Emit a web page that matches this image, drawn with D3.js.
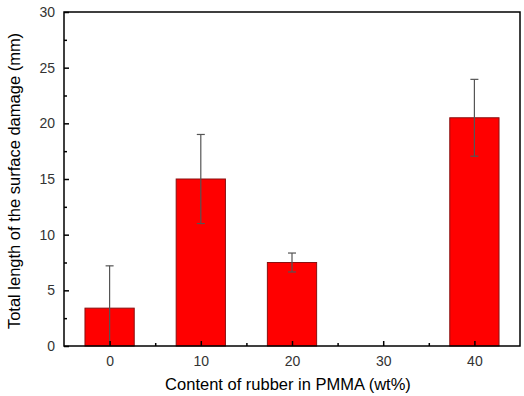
<!DOCTYPE html>
<html>
<head>
<meta charset="utf-8">
<script src="https://cdn.jsdelivr.net/npm/d3@7"></script>
<style>
  body { margin: 0; background: #fff; }
  text { font-family: "Liberation Sans", Arial, sans-serif; }
</style>
</head>
<body>
<div id="chart"></div>
<script>
// rubber content categories and measured damage length
let contents = [0, 10, 20, 30, 40];
let damage = [3.4, 15.0, 7.5, 0, 20.5];
let errors = [3.8, 4.0, 0.85, 0, 3.45];
let yTicks = [0, 5, 10, 15, 20, 25, 30];
let yMinorTicks = [2.5, 7.5, 12.5, 17.5, 22.5, 27.5];
let xMinorTicks = [5, 15, 25, 35];

let width = 524, height = 396;
let margin = {top: 12, right: 4, bottom: 50, left: 64};
let innerWidth = width - margin.left - margin.right;
let innerHeight = height - margin.top - margin.bottom;

let svg = d3.select("#chart")
  .append("svg")
  .attr("width", width)
  .attr("height", height)
  .append("g")
  .attr("transform", "translate(" + margin.left + "," + margin.top + ")");

let x = d3.scaleLinear().domain([-5, 45]).range([0, innerWidth]);
let y = d3.scaleLinear().domain([0, 30]).range([innerHeight, 0]);
let barW = x(2.7) - x(-2.7);

// bars
svg.selectAll("rect.bar")
  .data(contents.map((c, i) => ({c: c, v: damage[i], e: errors[i]})).filter(d => d.v > 0))
  .join("rect")
  .attr("class", "bar")
  .attr("x", d => x(d.c) - barW / 2)
  .attr("y", d => y(d.v))
  .attr("width", barW)
  .attr("height", d => innerHeight - y(d.v))
  .attr("fill", "#ff0000")
  .attr("stroke", "#8a1010")
  .attr("stroke-width", 1);

// error bars
let errData = contents.map((c, i) => ({c: c, v: damage[i], e: errors[i]})).filter(d => d.e > 0);
let eb = svg.append("g").attr("stroke", "#555").attr("stroke-width", 1.2);
eb.selectAll("line.stem")
  .data(errData)
  .join("line")
  .attr("x1", d => x(d.c)).attr("x2", d => x(d.c))
  .attr("y1", d => y(d.v + d.e))
  .attr("y2", d => y(Math.max(0, d.v - d.e)));
eb.selectAll("line.capTop")
  .data(errData)
  .join("line")
  .attr("x1", d => x(d.c) - 4).attr("x2", d => x(d.c) + 4)
  .attr("y1", d => y(d.v + d.e)).attr("y2", d => y(d.v + d.e));
eb.selectAll("line.capBot")
  .data(errData.filter(d => d.v - d.e > 0))
  .join("line")
  .attr("x1", d => x(d.c) - 4).attr("x2", d => x(d.c) + 4)
  .attr("y1", d => y(d.v - d.e)).attr("y2", d => y(d.v - d.e));

// axes with inward ticks
let xAxis = svg.append("g")
  .attr("transform", "translate(0," + innerHeight + ")")
  .call(d3.axisBottom(x).tickValues(contents).tickSize(-5).tickPadding(10).tickFormat(d3.format("d")));
let xMinor = svg.append("g")
  .attr("transform", "translate(0," + innerHeight + ")")
  .call(d3.axisBottom(x).tickValues(xMinorTicks).tickSize(-3).tickFormat(""));
let yAxis = svg.append("g")
  .call(d3.axisLeft(y).tickValues(yTicks).tickSize(-5).tickPadding(9).tickFormat(d3.format("d")));
let yMinor = svg.append("g")
  .call(d3.axisLeft(y).tickValues(yMinorTicks).tickSize(-3).tickFormat(""));

[xAxis, xMinor, yAxis, yMinor].forEach(a => {
  a.select(".domain").remove();
  a.selectAll("line").attr("stroke", "#000").attr("stroke-width", 1.5);
  a.selectAll("text").attr("font-size", 14).attr("fill", "#333");
});

// frame
svg.append("rect")
  .attr("width", innerWidth)
  .attr("height", innerHeight)
  .attr("fill", "none")
  .attr("stroke", "#000")
  .attr("stroke-width", 1.5);

// axis titles
svg.append("text")
  .attr("x", innerWidth / 2 - 4)
  .attr("y", innerHeight + 44)
  .attr("text-anchor", "middle")
  .attr("font-size", 16.5)
  .attr("fill", "#000")
  .text("Content of rubber in PMMA (wt%)");

svg.append("text")
  .attr("transform", "translate(" + (-44) + "," + (innerHeight / 2 + 2) + ") rotate(-90)")
  .attr("text-anchor", "middle")
  .attr("font-size", 16.5)
  .attr("fill", "#000")
  .text("Total length of the surface damage (mm)");
</script>
</body>
</html>
